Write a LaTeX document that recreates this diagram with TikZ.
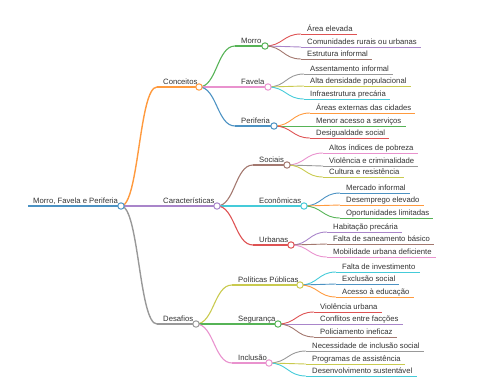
\documentclass[tikz,border=0pt]{standalone}
\usepackage{fontspec}
\setmainfont{Liberation Sans}
\usetikzlibrary{calc}
\definecolor{c0}{HTML}{4C92C3}
\definecolor{c1}{HTML}{FF9A3E}
\definecolor{c2}{HTML}{56B356}
\definecolor{c3}{HTML}{DE5253}
\definecolor{c4}{HTML}{A985CA}
\definecolor{c5}{HTML}{A3786F}
\definecolor{c6}{HTML}{E992CE}
\definecolor{c7}{HTML}{999999}
\definecolor{c8}{HTML}{C9CA4E}
\definecolor{c9}{HTML}{45CBD9}
\definecolor{txtc}{HTML}{333333}
\tikzset{
  lbl/.style={inner sep=0pt, anchor=base west, font=\fontsize{7.7}{9}\selectfont, text=txtc},
  dot/.style={circle, draw=#1, fill=white, line width=1.0pt, minimum size=6.4pt, inner sep=0pt},
  wR/.style={line width=1.8pt},
  wA/.style={line width=1.4pt},
  wB/.style={line width=1.1pt},
  wL/.style={line width=0.9pt},
}
% link: color, width style, from, to
\newcommand\Lnk[4]{%
  \path (#3) -- (#4) coordinate[pos=.5] (lkm);
  \draw[#1,#2] (#3) .. controls (lkm |- #3) and (lkm |- #4) .. (#4);}
% branch: name, color, width, sx, y, cx, text
\newcommand\Br[7]{%
  \coordinate (s#1) at (#4,#5);
  \node[lbl] (t#1) at (#4+6,#5-3) {#7};
  \coordinate (k#1) at (#6,#5);
  \draw[#2,#3] (s#1) -- (k#1);}
% leaf: name, color, sx, y, text
\newcommand\Lf[5]{%
  \coordinate (s#1) at (#3,#4);
  \node[lbl] (t#1) at (#3+6,#4-3) {#5};
  \coordinate (e#1) at ([xshift=4pt]t#1.base east);
  \draw[#2,wL] (s#1) -- (e#1 |- s#1);}
\begin{document}
\begin{tikzpicture}[x=1pt,y=-1pt]
\useasboundingbox (0,0) rectangle (480,384);
% root
\coordinate (sroot) at (28,206);
\node[lbl] (troot) at (33,203) {Morro, Favela e Periferia};
\coordinate (kroot) at (121,206);
\draw[c0,wR] (sroot) -- (kroot);
% level 1
\Br{con}{c1}{wA}{157}{87}{199}{Conceitos}
\Br{car}{c4}{wA}{157}{206}{217}{Características}
\Br{des}{c7}{wA}{157}{324}{196}{Desafios}
\Lnk{c1}{wA}{kroot}{scon}
\Lnk{c4}{wA}{kroot}{scar}
\Lnk{c7}{wA}{kroot}{sdes}
% level 2
\Br{mor}{c2}{wB}{235}{46}{265}{Morro}
\Br{fav}{c6}{wB}{235}{87}{268}{Favela}
\Br{per}{c0}{wB}{235}{126}{274}{Periferia}
\Br{soc}{c5}{wB}{253}{165}{287}{Sociais}
\Br{eco}{c9}{wB}{253}{206}{304}{Econômicas}
\Br{urb}{c3}{wB}{253}{245}{291}{Urbanas}
\Br{pol}{c8}{wB}{232}{285}{300}{Políticas Públicas}
\Br{seg}{c2}{wB}{232}{324}{278}{Segurança}
\Br{inc}{c6}{wB}{232}{363}{269}{Inclusão}
\Lnk{c2}{wB}{kcon}{smor}
\Lnk{c6}{wB}{kcon}{sfav}
\Lnk{c0}{wB}{kcon}{sper}
\Lnk{c5}{wB}{kcar}{ssoc}
\Lnk{c9}{wB}{kcar}{seco}
\Lnk{c3}{wB}{kcar}{surb}
\Lnk{c8}{wB}{kdes}{spol}
\Lnk{c2}{wB}{kdes}{sseg}
\Lnk{c6}{wB}{kdes}{sinc}
% leaves
\Lf{la}{c3}{301}{34}{Área elevada}
\Lf{lb}{c4}{301}{47}{Comunidades rurais ou urbanas}
\Lf{lc}{c5}{301}{59}{Estrutura informal}
\Lf{ld}{c7}{304}{74}{Assentamento informal}
\Lf{le}{c8}{304}{86}{Alta densidade populacional}
\Lf{lf}{c9}{304}{99}{Infraestrutura precária}
\Lf{lg}{c1}{310}{113}{Áreas externas das cidades}
\Lf{lh}{c2}{310}{126}{Menor acesso a serviços}
\Lf{li}{c3}{310}{138}{Desigualdade social}
\Lf{lj}{c6}{323}{153}{Altos índices de pobreza}
\Lf{lk}{c7}{323}{166}{Violência e criminalidade}
\Lf{ll}{c8}{323}{177}{Cultura e resistência}
\Lf{lm}{c0}{340}{193}{Mercado informal}
\Lf{ln}{c1}{340}{205}{Desemprego elevado}
\Lf{lo}{c2}{340}{218}{Oportunidades limitadas}
\Lf{lp}{c4}{327}{232}{Habitação precária}
\Lf{lq}{c5}{327}{244}{Falta de saneamento básico}
\Lf{lr}{c6}{327}{257}{Mobilidade urbana deficiente}
\Lf{ls}{c9}{336}{272}{Falta de investimento}
\Lf{lt}{c0}{336}{284}{Exclusão social}
\Lf{lu}{c1}{336}{297}{Acesso à educação}
\Lf{lv}{c3}{314}{312}{Violência urbana}
\Lf{lw}{c4}{314}{324}{Conflitos entre facções}
\Lf{lx}{c5}{314}{337}{Policiamento ineficaz}
\Lf{ly}{c7}{306}{351}{Necessidade de inclusão social}
\Lf{lz}{c8}{306}{364}{Programas de assistência}
\Lf{lzz}{c9}{306}{376}{Desenvolvimento sustentável}
\Lnk{c3}{wL}{kmor}{sla}
\Lnk{c4}{wL}{kmor}{slb}
\Lnk{c5}{wL}{kmor}{slc}
\Lnk{c7}{wL}{kfav}{sld}
\Lnk{c8}{wL}{kfav}{sle}
\Lnk{c9}{wL}{kfav}{slf}
\Lnk{c1}{wL}{kper}{slg}
\Lnk{c2}{wL}{kper}{slh}
\Lnk{c3}{wL}{kper}{sli}
\Lnk{c6}{wL}{ksoc}{slj}
\Lnk{c7}{wL}{ksoc}{slk}
\Lnk{c8}{wL}{ksoc}{sll}
\Lnk{c0}{wL}{keco}{slm}
\Lnk{c1}{wL}{keco}{sln}
\Lnk{c2}{wL}{keco}{slo}
\Lnk{c4}{wL}{kurb}{slp}
\Lnk{c5}{wL}{kurb}{slq}
\Lnk{c6}{wL}{kurb}{slr}
\Lnk{c9}{wL}{kpol}{sls}
\Lnk{c0}{wL}{kpol}{slt}
\Lnk{c1}{wL}{kpol}{slu}
\Lnk{c3}{wL}{kseg}{slv}
\Lnk{c4}{wL}{kseg}{slw}
\Lnk{c5}{wL}{kseg}{slx}
\Lnk{c7}{wL}{kinc}{sly}
\Lnk{c8}{wL}{kinc}{slz}
\Lnk{c9}{wL}{kinc}{slzz}
% circles
\node[dot=c0] (croot) at (kroot) {};
\node[dot=c1] (ccon) at (kcon) {};
\node[dot=c4] (ccar) at (kcar) {};
\node[dot=c7] (cdes) at (kdes) {};
\node[dot=c2] (cmor) at (kmor) {};
\node[dot=c6] (cfav) at (kfav) {};
\node[dot=c0] (cper) at (kper) {};
\node[dot=c5] (csoc) at (ksoc) {};
\node[dot=c9] (ceco) at (keco) {};
\node[dot=c3] (curb) at (kurb) {};
\node[dot=c8] (cpol) at (kpol) {};
\node[dot=c2] (cseg) at (kseg) {};
\node[dot=c6] (cinc) at (kinc) {};
\end{tikzpicture}
\end{document}
